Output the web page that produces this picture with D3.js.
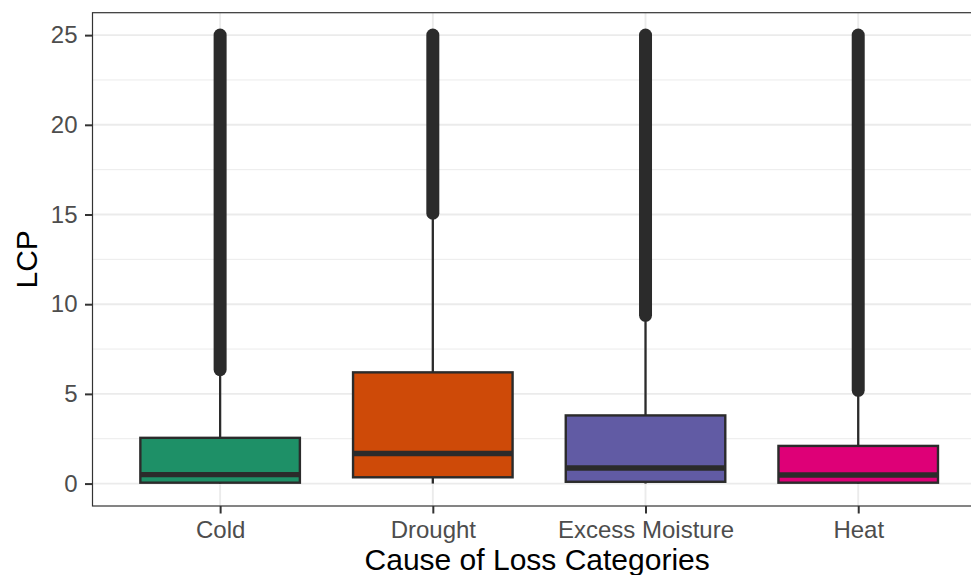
<!DOCTYPE html>
<html>
<head>
<meta charset="utf-8">
<script src="https://cdn.jsdelivr.net/npm/d3@7"></script>
<style>
  body { margin: 0; background: #fff; overflow: hidden; }
  svg { display: block; }
  text { font-family: "Liberation Sans", Arial, sans-serif; }
</style>
</head>
<body>
<svg id="chart"></svg>
<script>
// loss categories and box stats
const categories = ['Cold', 'Drought', 'Excess Moisture', 'Heat']
const q1 = [0.05, 0.35, 0.1, 0.05]
const medians = [0.5, 1.68, 0.87, 0.48]
const q3 = [2.55, 6.2, 3.8, 2.1]
const whiskerLow = [0, 0, 0, 0]
const whiskerHigh = [6.3, 15.0, 9.35, 5.15]
// outliers are so dense they merge into one band, keep the band extent
const outlierMin = [6.35, 15.07, 9.38, 5.2]
const outlierMax = [25, 25, 25, 25]
const boxColors = ['#1E9067', '#CE4A08', '#615BA4', '#DE0077']
const yTicks = [0, 5, 10, 15, 20, 25]
const yMinor = [2.5, 7.5, 12.5, 17.5, 22.5]

const width = 971, height = 575
const margin = {top: 12.7, left: 92.5, bottom: 69}
const innerH = height - margin.top - margin.bottom
const catStep = 212.7

const svg = d3.select('#chart')
    .attr('width', width)
    .attr('height', height)

// discrete x with ggplot's 0.6 expansion on each side
const x = d3.scaleLinear()
    .domain([0.4, 4.6])
    .range([margin.left, margin.left + 4.2 * catStep])
const y = d3.scaleLinear()
    .domain([-1.25, 26.25])
    .range([margin.top + innerH, margin.top])

const grid = svg.append('g')
grid.selectAll('.minor')
    .data(yMinor)
    .join('line')
    .attr('x1', x(0.4)).attr('x2', x(4.6))
    .attr('y1', d => y(d)).attr('y2', d => y(d))
    .attr('stroke', '#EBEBEB')
    .attr('stroke-width', 1)
grid.selectAll('.major')
    .data(yTicks)
    .join('line')
    .attr('x1', x(0.4)).attr('x2', x(4.6))
    .attr('y1', d => y(d)).attr('y2', d => y(d))
    .attr('stroke', '#EBEBEB')
    .attr('stroke-width', 1.9)
grid.selectAll('.vmajor')
    .data(categories)
    .join('line')
    .attr('x1', (d, i) => x(i + 1)).attr('x2', (d, i) => x(i + 1))
    .attr('y1', y(-1.25)).attr('y2', y(26.25))
    .attr('stroke', '#EBEBEB')
    .attr('stroke-width', 1.9)

const boxW = 0.75
const boxes = svg.append('g')
categories.forEach((c, i) => {
    let cx = x(i + 1)
    // whiskers
    boxes.append('line')
        .attr('x1', cx).attr('x2', cx)
        .attr('y1', y(q3[i])).attr('y2', y(whiskerHigh[i]))
        .attr('stroke', '#2B2B2B').attr('stroke-width', 2.3)
    boxes.append('line')
        .attr('x1', cx).attr('x2', cx)
        .attr('y1', y(q1[i])).attr('y2', y(whiskerLow[i]))
        .attr('stroke', '#2B2B2B').attr('stroke-width', 2.3)
    // outlier band
    boxes.append('line')
        .attr('x1', cx).attr('x2', cx)
        .attr('y1', y(outlierMin[i])).attr('y2', y(outlierMax[i]))
        .attr('stroke', '#2B2B2B').attr('stroke-width', 13)
        .attr('stroke-linecap', 'round')
    boxes.append('rect')
        .attr('x', x(i + 1 - boxW / 2))
        .attr('width', x(i + 1 + boxW / 2) - x(i + 1 - boxW / 2))
        .attr('y', y(q3[i]))
        .attr('height', y(q1[i]) - y(q3[i]))
        .attr('fill', boxColors[i])
        .attr('stroke', '#2B2B2B').attr('stroke-width', 2.4)
    boxes.append('line')
        .attr('x1', x(i + 1 - boxW / 2)).attr('x2', x(i + 1 + boxW / 2))
        .attr('y1', y(medians[i])).attr('y2', y(medians[i]))
        .attr('stroke', '#2B2B2B').attr('stroke-width', 5.4)
})

// panel border (right side runs past the window, as in the original)
svg.append('rect')
    .attr('x', x(0.4)).attr('y', y(26.25))
    .attr('width', x(4.6) - x(0.4))
    .attr('height', y(-1.25) - y(26.25))
    .attr('fill', 'none')
    .attr('stroke', '#333333').attr('stroke-width', 1.2)

// axes
const yAxis = svg.append('g')
    .attr('transform', `translate(${margin.left},0)`)
    .call(d3.axisLeft(y).tickValues(yTicks).tickSize(7.5).tickPadding(7.5))
const xAxis = svg.append('g')
    .attr('transform', `translate(0,${y(-1.25)})`)
    .call(d3.axisBottom(x).tickValues([1, 2, 3, 4]).tickSize(7.5).tickPadding(7)
        .tickFormat(d => categories[d - 1]))
for (let ax of [xAxis, yAxis]) {
    ax.select('.domain').remove()
    ax.selectAll('.tick line').attr('stroke', '#333333').attr('stroke-width', 2)
    ax.selectAll('.tick text')
        .attr('fill', '#4D4D4D')
        .attr('font-size', '24px')
        .style('font-family', '"Liberation Sans", Arial, sans-serif')
}

svg.append('text')
    .attr('x', x(2.5) - 2)
    .attr('y', 570)
    .attr('text-anchor', 'middle')
    .attr('font-size', '30px')
    .attr('fill', '#000')
    .text('Cause of Loss Categories')

svg.append('text')
    .attr('transform', `translate(37,${(y(-1.25) + y(26.25)) / 2}) rotate(-90)`)
    .attr('text-anchor', 'middle')
    .attr('font-size', '30px')
    .attr('fill', '#000')
    .text('LCP')
</script>
</body>
</html>
